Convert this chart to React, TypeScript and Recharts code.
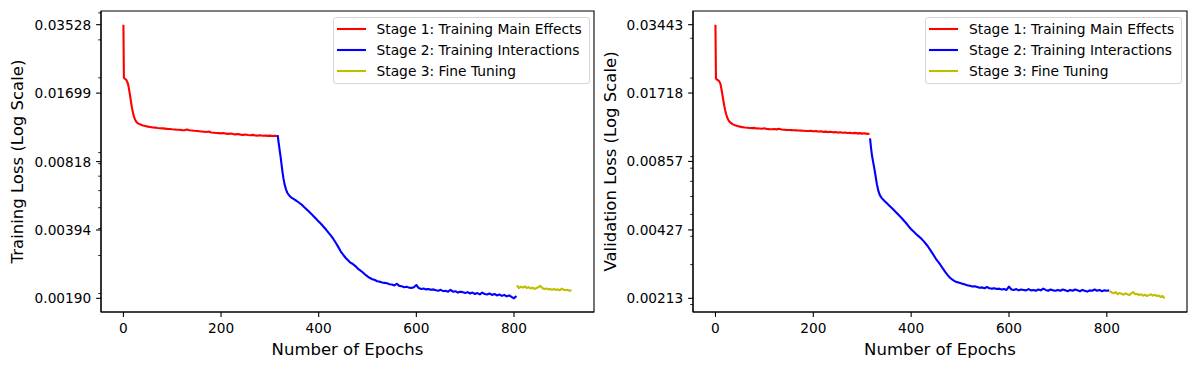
import React from 'react';
import { LineChart, Line, XAxis, YAxis, Legend, ReferenceArea } from 'recharts';

const stage1Epochs = [
  0, 1, 2, 4, 6, 8, 10, 12, 14, 16, 18, 20, 22, 24, 26, 28,
  30, 35, 40, 45, 50, 55, 60, 65, 70, 75,
  80, 85, 90, 95, 100, 105, 110, 115, 120, 125,
  130, 135, 140, 145, 150, 155, 160, 165, 170, 175,
  180, 185, 190, 195, 200, 205, 210, 215, 220, 225,
  230, 235, 240, 245, 250, 255, 260, 265, 270, 275,
  280, 285, 290, 295, 300, 305, 310, 315,
];
const stage2Epochs = [
  316, 318, 320, 322, 324, 326, 328, 330, 333, 336, 340,
  345, 350, 355, 360, 365, 370, 375, 380, 385, 390,
  395, 400, 405, 410, 415, 420, 425, 430, 435, 440,
  445, 450, 455, 460, 465, 470, 475, 480, 485, 490,
  495, 500, 505, 510, 515, 520, 525, 530, 535, 540,
  545, 550, 555, 560, 565, 570, 575, 580, 585, 590,
  595, 600, 605, 610, 615, 620, 625, 630, 635, 640,
  645, 650, 655, 660, 665, 670, 675, 680, 685, 690,
  695, 700, 705, 710, 715, 720, 725, 730, 735, 740,
  745, 750, 755, 760, 765, 770, 775, 780, 785, 790,
  795, 800, 805,
];
const stage3Epochs = [
  806, 810, 814, 818, 822, 826, 830, 834, 838, 842,
  846, 850, 854, 858, 862, 866, 870, 874, 878, 882,
  886, 890, 894, 898, 902, 906, 910, 914, 918,
];

const trainStage1 = [
  0.03528, 0.02, 0.0199, 0.01975, 0.01955, 0.01915, 0.0185, 0.01745, 0.01635, 0.01525,
  0.01435, 0.01365, 0.01315, 0.01278, 0.01255, 0.0124,
  0.0123, 0.01214, 0.01203, 0.01195, 0.01188, 0.01183, 0.01178, 0.01176, 0.0117, 0.01168,
  0.01166, 0.01163, 0.0116, 0.01158, 0.01155, 0.01153, 0.0115, 0.01149, 0.01145, 0.01143,
  0.01152, 0.01142, 0.01139, 0.01136, 0.01134, 0.01131, 0.01128, 0.01125, 0.01122, 0.01127,
  0.01116, 0.01113, 0.0111, 0.01108, 0.01105, 0.01109, 0.01102, 0.011, 0.01104, 0.01097,
  0.01094, 0.01098, 0.01091, 0.01088, 0.01092, 0.01086, 0.01083, 0.01088, 0.01081, 0.01079,
  0.01083, 0.01077, 0.01081, 0.01076, 0.01079, 0.01074, 0.01078, 0.01075,
];
const trainStage2 = [
  0.01086, 0.01, 0.00925, 0.0086, 0.0079, 0.00728, 0.0068, 0.00643, 0.00608, 0.00585, 0.00568,
  0.00555, 0.00546, 0.00537, 0.00527, 0.00517, 0.00504, 0.00492, 0.0048, 0.00468, 0.00455,
  0.00443, 0.00431, 0.0042, 0.00408, 0.00396, 0.00383, 0.00371, 0.00358, 0.00344, 0.00329,
  0.00314, 0.00303, 0.00293, 0.00285, 0.00278, 0.00274, 0.00268, 0.00261, 0.00256, 0.00251,
  0.00245, 0.0024, 0.00236, 0.00233, 0.00231, 0.00228, 0.00227, 0.00225, 0.00224, 0.00223,
  0.00221, 0.0022, 0.00218, 0.00222, 0.00217, 0.00216, 0.00214, 0.00215, 0.00213, 0.00212,
  0.00214, 0.00219, 0.00212, 0.0021, 0.00211, 0.00209, 0.0021, 0.00208, 0.00209, 0.00207,
  0.00206, 0.00208, 0.00205, 0.00206, 0.00204, 0.00208, 0.00204, 0.00205, 0.00202, 0.00204,
  0.00203, 0.00201, 0.00203, 0.002, 0.00202, 0.00199, 0.00201, 0.00198, 0.00202, 0.00199,
  0.00198, 0.002, 0.00197, 0.00199, 0.00196, 0.00198, 0.00195, 0.00197, 0.00194, 0.00196,
  0.00193, 0.0019, 0.00195,
];
const trainStage3 = [
  0.00218, 0.00212, 0.00215, 0.00213, 0.00216, 0.00212, 0.00214, 0.00211, 0.00213, 0.0021,
  0.00212, 0.00214, 0.00217, 0.00212, 0.0021, 0.00211, 0.00209, 0.0021, 0.00208, 0.0021,
  0.00208, 0.00209, 0.00207, 0.00211, 0.00208, 0.00207, 0.00208, 0.00206, 0.00207,
];

const valStage1 = [
  0.03443, 0.0199, 0.0198, 0.01965, 0.0195, 0.0193, 0.0189, 0.018, 0.017, 0.016,
  0.0151, 0.0144, 0.01385, 0.0134, 0.0131, 0.0129,
  0.01275, 0.01252, 0.01237, 0.01228, 0.01221, 0.01215, 0.0121, 0.01207, 0.01204, 0.01202,
  0.01205, 0.01199, 0.01197, 0.01195, 0.012, 0.01192, 0.0119, 0.01189, 0.01191, 0.01187,
  0.01194, 0.01185, 0.01183, 0.01181, 0.0118, 0.01178, 0.01176, 0.01175, 0.01173, 0.01172,
  0.0117, 0.01168, 0.01167, 0.01169, 0.01164, 0.01166, 0.01161, 0.01163, 0.01158, 0.0116,
  0.01155, 0.01158, 0.01152, 0.01155, 0.01149, 0.01153, 0.01147, 0.0115, 0.01145, 0.01148,
  0.01142, 0.01146, 0.0114, 0.01143, 0.01137, 0.01141, 0.01134, 0.01136,
];
const valStage2 = [
  0.01084, 0.00985, 0.0091, 0.0086, 0.00815, 0.0077, 0.00722, 0.0068, 0.00635, 0.00608, 0.0059,
  0.00575, 0.00562, 0.00548, 0.00535, 0.00522, 0.00509, 0.00496, 0.00483, 0.0047, 0.00457,
  0.00443, 0.0043, 0.0042, 0.0041, 0.00401, 0.00392, 0.00382, 0.00371, 0.00359, 0.00346,
  0.00333, 0.0032, 0.00309, 0.00299, 0.00288, 0.00278, 0.00269, 0.00262, 0.00257, 0.00253,
  0.00251, 0.00249, 0.00247, 0.00245, 0.00243, 0.00242, 0.0024, 0.00241, 0.00239, 0.00237,
  0.00238, 0.00236, 0.00239, 0.00236, 0.00235, 0.00236, 0.00234, 0.00235, 0.00233, 0.00234,
  0.00232, 0.0024, 0.00233, 0.00232, 0.00234, 0.00231, 0.00233, 0.00232, 0.00231, 0.00234,
  0.00231, 0.00232, 0.0023, 0.00233, 0.00231, 0.00235, 0.00232, 0.0023, 0.00233, 0.00231,
  0.0023, 0.00232, 0.0023, 0.00233, 0.00231, 0.00229, 0.00232, 0.0023, 0.00233, 0.00231,
  0.00229, 0.00232, 0.0023, 0.00228, 0.00231, 0.0023, 0.00233, 0.0023, 0.00232, 0.00229,
  0.00231, 0.0023, 0.00231,
];
const valStage3 = [
  0.00229, 0.00226, 0.00224, 0.00227, 0.00222, 0.00225, 0.00223, 0.00221, 0.00224, 0.00222,
  0.0022, 0.00224, 0.00227, 0.00222, 0.00223, 0.0022, 0.00222, 0.00219, 0.00221, 0.00218,
  0.0022, 0.00222, 0.00219, 0.00221, 0.00218, 0.00219, 0.00216, 0.00218, 0.00213,
];

const trainTicks = [0.0019, 0.00394, 0.00818, 0.01699, 0.03528];
const valTicks = [0.00213, 0.00427, 0.00857, 0.01718, 0.03443];
const minorTicks = [0.002, 0.003, 0.004, 0.005, 0.006, 0.007, 0.008, 0.009, 0.02, 0.03, 0.04];
const epochTicks = [0, 200, 400, 600, 800];
const stageNames = ['Stage 1: Training Main Effects', 'Stage 2: Training Interactions', 'Stage 3: Fine Tuning'];
const stageColors = ['#ff0000', '#0000ff', '#bfbf00'];

const FONT = '"DejaVu Sans", sans-serif';
const HEIGHT = 369;
const PLOT_TOP = 11;
const X_AXIS_H = 57;
const epochDomain: [number, number] = [-45.9, 963.9];

const rows = (epochs: number[], values: number[]) =>
  epochs.map((epoch, i) => ({ epoch, loss: values[i] }));

// matplotlib-style 5% padding in log space
const logDomain = (ticks: number[]): [number, number] => {
  const lo = Math.log10(Math.min(...ticks));
  const hi = Math.log10(Math.max(...ticks));
  const pad = (hi - lo) * 0.05;
  return [Math.pow(10, lo - pad), Math.pow(10, hi + pad)];
};

const LogTick = (props: any) => {
  const { y, payload, axisX, majors } = props;
  const major = majors.includes(payload.value);
  return (
    <g>
      <line
        x1={axisX - (major ? 4.9 : 2.8)}
        x2={axisX}
        y1={y}
        y2={y}
        stroke="#000"
        strokeWidth={major ? 1.1 : 0.85}
      />
      {major && (
        <text x={axisX - 9.8} y={y} dy="0.36em" textAnchor="end" fill="#000" fontSize={13.7} fontFamily={FONT}>
          {payload.value.toFixed(5)}
        </text>
      )}
    </g>
  );
};

const XTitle = ({ cx }: any) => (
  <text x={cx} y={HEIGHT - 14} textAnchor="middle" fill="#000" fontSize={16.5} fontFamily={FONT}>
    Number of Epochs
  </text>
);

const YTitle = ({ cx, cy, text }: any) => (
  <text
    x={cx}
    y={cy}
    transform={`rotate(-90, ${cx}, ${cy})`}
    textAnchor="middle"
    dominantBaseline="central"
    fill="#000"
    fontSize={16.5}
    fontFamily={FONT}
  >
    {text}
  </text>
);

const StageLegend = () => (
  <div
    style={{
      boxSizing: 'border-box',
      width: 257,
      height: 67,
      paddingTop: 1,
      border: '1px solid #d6d6d6',
      borderRadius: 3,
      background: 'rgba(255,255,255,0.8)',
      fontFamily: FONT,
      fontSize: 13.8,
      color: '#000',
    }}
  >
    {stageNames.map((name, i) => (
      <div key={name} style={{ display: 'flex', alignItems: 'center', height: 20.8, whiteSpace: 'nowrap' }}>
        <svg width={43} height={6} style={{ flex: 'none' }}>
          <line x1={3} x2={32} y1={3} y2={3} stroke={stageColors[i]} strokeWidth={2.1} />
        </svg>
        <span>{name}</span>
      </div>
    ))}
  </div>
);

type PanelProps = {
  width: number;
  yAxisWidth: number;
  marginRight: number;
  titleX: number;
  legendLeft: number;
  yTitle: string;
  majors: number[];
  series: number[][];
};

const Panel = ({ width, yAxisWidth, marginRight, titleX, legendLeft, yTitle, majors, series }: PanelProps) => {
  const yDomain = logDomain(majors);
  const ticks = [...majors, ...minorTicks.filter((t) => t > yDomain[0] && t < yDomain[1])].sort((a, b) => a - b);
  const plotW = width - yAxisWidth - marginRight;
  const plotH = HEIGHT - PLOT_TOP - X_AXIS_H;
  const stageRows = [
    rows(stage1Epochs, series[0]),
    rows(stage2Epochs, series[1]),
    rows(stage3Epochs, series[2]),
  ];

  return (
    <LineChart width={width} height={HEIGHT} margin={{ top: PLOT_TOP, right: marginRight, bottom: 0, left: 0 }}>
      <XAxis
        type="number"
        dataKey="epoch"
        domain={epochDomain}
        allowDataOverflow
        ticks={epochTicks}
        interval={0}
        height={X_AXIS_H}
        tickSize={4.9}
        tickMargin={6.5}
        tick={{ fill: '#000', fontSize: 13.7, fontFamily: FONT }}
        tickLine={{ stroke: '#000', strokeWidth: 1.1 }}
        axisLine={{ stroke: '#000', strokeWidth: 1.1 }}
        label={<XTitle cx={yAxisWidth + plotW / 2} />}
      />
      <YAxis
        type="number"
        scale="log"
        domain={yDomain}
        allowDataOverflow
        ticks={ticks}
        interval={0}
        width={yAxisWidth}
        tickLine={false}
        axisLine={{ stroke: '#000', strokeWidth: 1.1 }}
        tick={(p: any) => <LogTick {...p} axisX={yAxisWidth} majors={majors} />}
        label={<YTitle cx={titleX} cy={PLOT_TOP + plotH / 2} text={yTitle} />}
      />
      <ReferenceArea
        x1={epochDomain[0]}
        x2={epochDomain[1]}
        y1={yDomain[0]}
        y2={yDomain[1]}
        fill="none"
        stroke="#000"
        strokeWidth={1.1}
        ifOverflow="visible"
      />
      {stageRows.map((data, i) => (
        <Line
          key={stageNames[i]}
          data={data}
          dataKey="loss"
          name={stageNames[i]}
          type="linear"
          stroke={stageColors[i]}
          strokeWidth={2.1}
          strokeLinejoin="round"
          dot={false}
          activeDot={false}
          isAnimationActive={false}
        />
      ))}
      <Legend
        layout="vertical"
        align="center"
        verticalAlign="middle"
        wrapperStyle={{ top: 17, left: legendLeft, width: 257 }}
        content={<StageLegend />}
      />
    </LineChart>
  );
};

export default function App() {
  return (
    <div style={{ position: 'absolute', left: 0, top: 0, width: 1195, height: HEIGHT, background: '#fff' }}>
      <div style={{ position: 'absolute', left: 0, top: 0 }}>
        <Panel
          width={597}
          yAxisWidth={101}
          marginRight={3}
          titleX={17}
          legendLeft={332.5}
          yTitle="Training Loss (Log Scale)"
          majors={trainTicks}
          series={[trainStage1, trainStage2, trainStage3]}
        />
      </div>
      <div style={{ position: 'absolute', left: 597, top: 0 }}>
        <Panel
          width={598}
          yAxisWidth={96}
          marginRight={8}
          titleX={13}
          legendLeft={328}
          yTitle="Validation Loss (Log Scale)"
          majors={valTicks}
          series={[valStage1, valStage2, valStage3]}
        />
      </div>
    </div>
  );
}
